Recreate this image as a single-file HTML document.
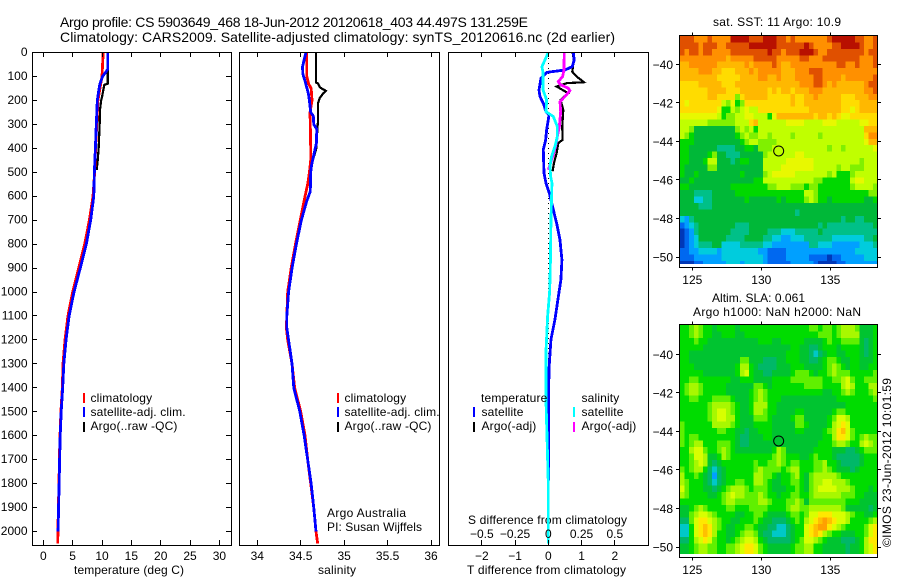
<!DOCTYPE html>
<html lang="en">
<head>
<meta charset="utf-8">
<title>Argo profile CS 5903649_468</title>
<style>
html,body{margin:0;padding:0;background:#fff;width:900px;height:580px;overflow:hidden}
svg{display:block;font-family:"Liberation Sans",sans-serif;fill:#000}
text{font-size:12px}
</style>
</head>
<body>
<svg id="fig" xmlns="http://www.w3.org/2000/svg" width="900" height="580" viewBox="0 0 900 580">
<defs>
<clipPath id="c1"><rect x="33" y="53" width="198" height="492"/></clipPath>
<clipPath id="c2"><rect x="240" y="53" width="199" height="492"/></clipPath>
<clipPath id="c3"><rect x="449" y="53" width="199" height="492"/></clipPath>
<clipPath id="m1"><rect x="680" y="36" width="197" height="228"/></clipPath>
<clipPath id="m2"><rect x="680" y="325" width="197" height="229"/></clipPath>
</defs>
<text x="60" y="27" style="font-size:14px" textLength="468">Argo profile: CS 5903649_468 18-Jun-2012 20120618_403 44.497S 131.259E</text>
<text x="60" y="42" style="font-size:14px" textLength="555">Climatology: CARS2009. Satellite-adjusted climatology: synTS_20120616.nc (2d earlier)</text>
<text x="74" y="574" textLength="110">temperature (deg C)</text>
<text x="318" y="574" textLength="38">salinity</text>
<text x="467" y="574" textLength="159">T difference from climatology</text>
<text x="468" y="524" textLength="159">S difference from climatology</text>
<text x="327" y="517" textLength="79">Argo Australia</text>
<text x="327" y="531" textLength="95">PI: Susan Wijffels</text>
<text x="713" y="26" textLength="128">sat. SST: 11 Argo: 10.9</text>
<text x="712" y="302" textLength="93">Altim. SLA: 0.061</text>
<text x="693" y="316" textLength="168">Argo h1000: NaN h2000: NaN</text>
<text transform="translate(891 547) rotate(-90)" x="0" y="0" textLength="169">©IMOS 23-Jun-2012 10:01:59</text>
</svg>
<script>
// ---------- profile data (depth in metres) ----------
const tempDepths = [0,100,150,200,300,400,500,600,700,800,900,1000,1100,1200,1300,1400,1500,1600,1700,1800,1900,2000,2050];
const tempClim = [10.2,10,9.65,9.3,9.1,8.9,8.75,8.47,7.85,7.05,6.03,5,4.2,3.7,3.36,3.24,3,2.85,2.73,2.68,2.56,2.5,2.45];
const tempSatDepths = [0,70,80,100,130,150,200,300,400,500,600,700,800,900,1000,1100,1200,1300,1400,1500,1600,1700,1800,1900,2000];
const tempSat = [10.97,10.97,10.7,10.1,9.66,9.5,9.2,9.03,8.87,8.7,8.6,8.07,7.33,6.3,5.23,4.4,3.87,3.5,3.3,3.05,2.88,2.78,2.7,2.6,2.52];
const tempArgoDepths = [0,130,135,160,180,200,240,300,400,450,490];
const tempArgo = [10.97,10.97,10.4,10.2,10.05,9.85,9.66,9.6,9.43,9.27,9.1];

const salClimDepths = [0,100,130,150,200,250,300,400,450,500,550,600,700,800,900,1000,1100,1150,1200,1300,1400,1500,1600,1700,1800,1900,2000,2050];
const salClim = [34.57,34.57,34.59,34.62,34.63,34.607,34.61,34.615,34.615,34.6,34.58,34.55,34.495,34.44,34.39,34.35,34.34,34.335,34.35,34.4,34.43,34.5,34.55,34.58,34.615,34.65,34.676,34.695];
const salSatDepths = [0,30,60,90,120,170,200,250,265,300,320,380,420,470,500,580,620,700,800,900,1000,1100,1150,1300,1400,1500,1600,1700,1800,1900,2000];
const salSat = [34.56,34.54,34.52,34.525,34.55,34.587,34.6,34.615,34.645,34.65,34.685,34.68,34.655,34.625,34.615,34.61,34.57,34.507,34.45,34.4,34.36,34.34,34.34,34.4,34.42,34.49,34.54,34.58,34.62,34.65,34.676];
const salArgoDepths = [0,125,130,145,150,160,170,190,210,250,280,330,400,450,480];
const salArgo = [34.676,34.676,34.7,34.72,34.74,34.79,34.76,34.72,34.7,34.7,34.7,34.69,34.68,34.64,34.62];

const dTSatDepths = [0,31,59,73,83,108,156,184,212,247,260,281,323,365,406,503,545,587,656,712,781,865,948,1031,1115,1198,1323,1448,1865,2050];
const dTSat = [0.75,0.78,0.72,0.5,-0.05,-0.22,-0.28,-0.25,-0.15,-0.07,0.02,0,-0.05,-0.08,-0.15,-0.13,-0.07,0.03,0.15,0.25,0.35,0.41,0.38,0.29,0.2,0.08,0.02,0.01,0,0];
const dTArgoDepths = [0,31,80,100,124,128,142,170,198,240,309,365,378,420,461,496];
const dTArgo = [0.73,0.77,0.72,0.85,1.07,0.55,0.25,0.6,0.37,0.45,0.42,0.43,0.3,0.25,0.17,0.13];
const dSSatDepths = [0,31,59,83,115,156,198,247,267,309,351,392,434,476,517,545,700,900,1000,1100,1250,1450,1600,1800,2050];
const dSSat = [0,-0.025,-0.048,-0.04,-0.04,-0.04,-0.0125,-0.0175,0.0375,0.068,0.068,0.05,0.025,0.0125,0.0175,0.0275,0.02,0.015,0.01,-0.005,-0.0175,-0.0175,-0.01,0,0];
const dSArgoDepths = [0,73,100,122,135,149,159,184,205,247,309,351,392,434,490];
const dSArgo = [0.12,0.118,0.108,0.075,0.093,0.15,0.163,0.125,0.088,0.093,0.083,0.068,0.055,0.033,0];

// ---------- axis ticks ----------
const depthTicks = [0,100,200,300,400,500,600,700,800,900,1000,1100,1200,1300,1400,1500,1600,1700,1800,1900,2000];
const tempTicks = [0,5,10,15,20,25,30];
const salTicks = [34,34.5,35,35.5,36];
const dTTicks = [-2,-1,0,1,2];
const dSTicks = [-0.5,-0.25,0,0.25,0.5];
const lonTicks = [125,130,135];
const latTicks = [-40,-42,-44,-46,-48,-50];

// ---------- map data: colour-level per 1/3 degree cell, north to south ----------
const sstLevels = [
[13,13,13,12,12,12,13,12,12,12,12,14,14,14,14,13,13,13,14,14,14,13,13,12,13,12,12,12,12,12,12,12,13,14,14,14,14,14,13,13,12,12,13],
[13,13,13,13,12,13,13,13,12,12,13,13,13,13,13,14,14,14,14,14,14,13,13,13,13,13,13,14,13,12,12,12,12,13,13,14,14,14,14,13,12,12,13],
[13,12,13,13,12,13,13,12,12,12,12,13,13,13,13,13,13,13,13,14,13,13,12,13,13,13,14,14,14,13,12,12,13,13,13,13,13,13,13,13,12,13,13],
[12,12,12,12,12,12,12,12,12,12,11,12,12,12,12,12,13,13,13,13,13,12,12,12,12,12,13,13,12,12,12,13,13,13,13,13,13,13,13,12,12,12,13],
[11,11,12,12,12,12,12,12,11,11,11,11,11,11,12,11,12,12,12,12,13,12,11,11,12,12,12,12,12,12,12,12,12,12,13,13,12,12,13,12,12,12,13],
[11,11,11,11,12,12,12,11,11,10,10,10,11,11,11,12,11,12,12,12,12,12,11,11,11,12,12,12,13,13,13,12,12,12,12,12,12,12,12,12,12,12,12],
[11,11,11,11,11,11,11,11,10,10,10,10,10,11,11,11,11,12,12,11,11,12,11,11,11,12,12,12,12,13,13,12,12,12,12,11,12,12,12,12,12,12,13],
[10,10,10,10,11,11,11,11,11,10,10,10,11,11,11,11,11,11,11,11,11,11,11,11,11,11,12,12,12,13,13,12,11,12,11,11,11,11,11,11,12,13,13],
[10,10,10,10,10,10,11,11,11,11,10,10,10,11,11,11,11,11,11,10,11,10,11,11,10,11,11,11,12,12,12,11,11,11,11,11,11,11,11,11,12,12,13],
[10,10,10,10,10,10,11,11,10,10,10,10,7,10,11,11,11,11,11,10,10,10,10,10,11,10,10,11,11,12,11,11,11,11,11,10,10,10,11,11,11,12,12],
[10,9,10,10,10,10,10,10,10,8,7,9,6,7,10,10,10,10,10,10,10,10,10,10,11,10,10,11,11,11,11,11,11,11,11,10,10,10,10,11,11,11,11],
[10,10,10,10,10,10,10,10,9,6,6,8,7,8,9,8,8,10,10,10,10,10,10,10,10,10,10,10,11,11,11,11,11,11,11,10,10,9,10,11,11,11,11],
[9,9,9,9,9,9,9,9,8,6,7,7,8,8,9,9,8,8,8,6,9,11,11,11,11,11,11,11,11,10,11,11,10,11,10,9,9,10,10,10,10,10,10],
[8,8,8,8,8,8,7,7,7,7,7,7,8,8,8,10,11,8,8,8,8,8,8,9,9,9,9,8,8,8,8,9,9,9,8,8,8,8,8,9,9,10,10],
[8,8,7,5,5,5,5,5,5,5,5,5,7,8,7,8,6,8,8,8,8,8,8,8,8,8,8,8,8,8,8,8,8,8,8,8,8,8,8,8,11,11,11],
[8,7,6,5,5,5,5,5,5,5,5,5,6,7,8,7,7,8,8,7,8,8,8,8,7,8,8,8,8,8,7,8,8,8,8,8,8,8,8,8,10,12,12],
[6,6,6,5,5,5,5,5,5,5,5,5,5,6,7,8,8,7,7,7,7,8,8,8,8,8,8,8,8,8,8,8,8,8,8,8,8,8,8,8,9,11,11],
[6,6,5,5,5,5,5,5,4,4,4,4,5,5,6,6,5,7,7,7,8,8,8,8,8,8,8,8,8,8,8,8,7,8,8,7,8,8,8,8,8,8,9],
[6,6,5,5,5,5,6,7,5,5,4,4,4,5,5,5,5,5,7,8,8,8,8,8,8,9,9,8,8,8,8,8,8,8,8,8,8,8,8,8,8,8,8],
[6,6,5,5,5,6,8,8,5,5,5,4,5,6,6,5,5,5,8,8,8,8,8,9,9,9,9,9,9,8,8,8,8,8,8,8,8,8,8,7,8,8,8],
[6,5,5,5,5,5,7,7,5,5,5,5,5,5,5,5,5,5,8,8,8,8,9,9,9,9,9,9,9,8,8,8,8,8,7,8,8,7,7,7,8,8,8],
[6,5,5,6,5,5,5,5,5,5,5,5,5,6,5,5,5,5,7,8,9,9,9,9,9,8,8,8,8,8,8,8,7,8,6,6,6,7,8,8,8,8,8],
[5,5,6,5,5,5,5,5,5,5,5,5,5,5,5,5,6,6,8,8,8,8,8,8,8,8,8,8,8,7,7,6,6,6,6,6,6,8,9,9,8,8,8],
[6,6,5,5,5,5,5,5,5,5,5,6,6,6,6,6,6,6,6,7,7,8,8,8,7,7,7,6,7,7,6,6,6,6,6,6,6,7,8,8,8,8,7],
[5,5,5,4,4,4,4,5,5,5,5,5,6,6,6,6,6,6,6,6,6,6,6,6,6,6,6,8,8,7,6,6,6,6,6,6,6,6,6,6,6,7,7],
[5,5,5,3,3,4,4,5,5,5,5,5,5,5,6,5,5,5,5,5,5,6,5,6,6,6,6,7,8,7,6,6,5,6,6,6,6,6,6,6,5,5,6],
[5,5,5,5,4,4,4,5,5,5,5,5,5,5,5,5,5,5,5,5,5,5,5,5,5,5,5,5,5,5,5,5,5,5,5,5,5,5,5,5,5,5,5],
[5,5,5,5,5,5,5,5,5,5,5,5,5,5,5,5,5,5,5,5,5,5,5,5,5,4,5,5,5,5,5,5,5,5,5,5,5,5,5,5,5,5,5],
[3,2,4,5,5,5,5,5,5,5,5,5,5,5,5,5,5,5,5,5,5,5,5,5,5,5,5,5,5,5,5,5,5,5,5,4,5,5,4,4,5,5,5],
[1,2,3,4,5,5,5,5,5,5,5,5,4,4,4,5,5,5,5,5,5,5,5,5,5,5,5,5,5,5,4,5,4,4,4,4,4,4,4,4,4,4,5],
[0,1,2,4,5,5,5,5,5,5,5,4,4,4,4,5,5,5,5,4,4,4,3,3,3,4,4,4,4,4,5,4,4,4,4,4,4,4,4,4,4,4,4],
[0,1,2,3,5,5,5,5,5,5,4,4,4,4,5,5,5,5,4,4,3,3,2,2,3,3,3,4,4,4,4,4,4,3,3,3,3,3,3,3,4,4,5],
[0,1,2,3,4,4,4,5,5,3,3,3,3,4,4,4,4,4,3,3,2,2,2,2,2,2,2,2,4,4,3,3,3,2,2,2,2,2,2,3,3,3,4],
[1,1,2,2,3,3,3,3,2,3,3,3,3,3,3,3,3,2,2,1,1,1,1,2,2,2,2,2,2,2,2,2,2,2,2,2,2,2,3,3,3,3,3],
[1,1,1,2,2,2,2,2,2,3,3,3,3,3,3,3,3,3,2,1,1,1,1,2,2,2,2,2,1,1,1,1,0,1,1,2,2,2,2,2,3,3,3],
[0,0,0,1,1,2,2,2,2,2,3,3,3,2,3,3,3,3,2,1,1,1,1,1,2,2,2,2,2,1,0,0,0,0,1,1,2,2,2,2,2,2,2]
];
const slaLevels = [
[6,6,7,8,7,6,6,5,6,6,6,6,5,6,6,6,6,6,6,6,6,6,6,6,6,6,6,6,7,7,6,7,7,6,7,8,8,8,7,5,5,5,6],
[6,6,7,8,7,6,6,5,5,6,6,6,5,5,6,6,6,6,6,6,6,6,6,6,6,6,6,6,6,6,7,7,7,6,7,8,8,8,8,5,5,5,6],
[6,6,6,7,6,6,5,5,5,5,5,5,5,5,5,5,5,6,6,6,5,5,6,6,6,6,6,5,5,5,5,6,7,6,6,7,7,7,7,5,4,5,6],
[6,6,6,6,6,5,5,5,5,5,5,5,5,5,5,5,5,5,5,5,5,5,5,5,6,6,5,5,4,4,5,6,6,6,5,6,6,6,6,5,4,5,6],
[6,6,5,5,5,5,5,5,5,5,5,5,5,5,5,5,5,5,5,5,5,5,5,6,6,6,5,5,4,3,4,5,6,6,5,5,6,6,6,5,4,5,6],
[6,6,5,5,5,5,5,5,5,5,5,5,5,7,7,5,5,5,4,4,4,5,5,6,6,6,5,5,4,4,5,6,7,7,6,5,5,6,6,5,5,5,6],
[6,6,6,5,5,5,5,5,5,5,5,5,6,8,8,6,5,4,4,4,4,5,5,5,6,6,6,5,5,5,5,6,7,8,7,6,5,6,6,5,5,6,6],
[6,6,6,6,6,5,5,5,5,5,5,5,6,8,9,6,5,5,4,4,5,5,5,5,6,7,7,7,6,5,6,6,7,8,7,7,7,6,6,6,6,6,7],
[6,6,7,7,6,6,6,6,6,6,6,5,5,6,6,6,5,5,5,5,6,6,6,6,7,7,7,7,7,7,7,6,6,7,7,8,9,7,6,6,7,7,7],
[6,7,8,8,7,6,6,6,6,6,5,5,5,5,5,5,7,7,6,5,6,6,6,6,6,6,6,7,7,7,7,6,6,6,6,8,9,8,6,6,6,8,8],
[6,7,8,8,7,6,6,6,6,6,5,5,5,5,5,6,7,8,7,6,6,6,6,6,6,6,6,6,6,6,6,5,5,6,6,7,8,7,6,6,6,7,8],
[6,6,7,7,6,6,6,7,7,7,7,6,5,5,5,6,7,8,7,6,6,6,5,5,5,5,5,5,5,5,5,5,5,5,6,6,6,6,6,6,6,6,7],
[6,6,6,6,6,6,7,8,8,8,8,7,6,5,5,6,8,8,8,6,6,5,5,5,5,5,5,5,5,5,5,5,5,5,5,5,6,6,6,6,6,6,6],
[6,6,6,6,6,6,7,8,9,9,8,7,6,5,5,6,8,8,7,6,6,5,5,5,5,6,6,5,5,5,5,5,5,6,7,7,6,6,6,6,6,6,6],
[6,6,6,6,6,6,7,8,9,9,8,8,6,5,5,5,7,7,7,6,5,5,5,5,6,7,7,5,5,5,5,5,6,7,9,9,8,6,6,6,6,6,6],
[7,6,6,6,6,6,6,8,8,8,8,7,6,5,5,5,6,6,6,6,5,5,5,5,5,7,7,6,5,5,5,5,6,8,9,10,9,6,6,6,6,6,6],
[7,6,6,6,6,6,6,6,7,7,6,6,5,5,4,5,5,6,6,6,5,5,5,5,5,6,6,5,5,5,5,6,7,8,10,11,9,7,6,6,6,6,6],
[7,6,7,7,6,6,6,6,6,6,6,6,5,4,4,5,5,5,6,6,5,5,5,5,5,5,5,5,5,5,5,6,6,8,10,10,9,7,6,7,8,7,7],
[7,6,7,8,8,6,6,6,7,7,7,6,5,4,4,5,5,5,5,5,5,5,5,5,5,5,5,5,5,5,6,6,6,7,8,8,7,6,6,8,9,8,7],
[6,6,8,9,9,7,6,6,7,8,7,6,5,5,5,5,5,5,5,5,6,8,7,5,5,5,5,5,5,6,6,6,6,5,5,5,4,4,5,6,7,7,7],
[6,6,7,9,9,8,5,5,6,8,7,6,6,6,6,6,6,6,6,6,7,8,7,6,6,6,5,5,6,7,6,6,6,5,4,4,4,4,4,5,6,6,6],
[6,6,7,8,9,8,5,4,5,6,6,6,6,6,6,6,7,6,6,7,7,8,7,6,7,7,6,6,6,7,7,8,6,6,5,4,4,4,4,5,6,6,6],
[7,6,7,8,8,6,4,3,4,5,6,6,6,6,6,6,7,8,7,7,7,7,6,7,8,8,6,6,6,7,7,8,7,6,5,5,5,4,5,6,6,6,6],
[8,6,6,7,6,5,4,2,4,5,6,6,6,6,6,6,8,8,7,7,6,5,6,6,7,8,6,5,7,8,8,8,8,8,7,6,6,6,6,6,6,6,6],
[8,7,6,6,6,5,4,3,4,5,6,6,7,7,6,6,8,8,7,6,5,5,6,6,7,7,6,5,7,8,8,9,9,8,8,8,7,6,6,6,6,6,6],
[9,7,6,6,6,5,5,4,5,6,7,8,8,8,7,6,7,7,7,6,5,5,5,6,6,7,6,5,7,8,9,9,9,9,8,8,8,7,6,6,6,5,6],
[8,7,6,6,6,6,5,5,6,7,8,9,8,8,7,7,7,8,7,6,6,5,6,6,7,7,6,6,7,8,8,8,8,8,8,7,7,7,6,6,5,5,5],
[6,6,6,6,6,6,6,6,6,7,8,8,7,7,7,7,7,8,8,7,6,6,6,7,7,8,7,5,7,7,7,7,7,7,7,7,6,6,6,5,5,5,5],
[5,5,6,7,8,7,6,6,6,6,7,7,6,6,6,7,7,7,7,6,6,6,6,7,8,8,7,7,8,8,8,8,8,8,8,7,5,5,5,5,5,4,5],
[5,5,7,8,9,9,8,7,6,6,6,6,5,5,6,6,7,7,6,5,5,5,5,6,7,7,6,7,9,9,10,10,10,9,9,9,8,7,6,6,5,5,6],
[4,4,7,9,10,10,9,8,7,6,6,5,5,6,6,6,7,6,5,5,4,4,4,5,6,7,6,8,9,10,11,12,11,10,9,9,8,6,6,6,6,7,8],
[3,3,6,9,10,11,10,8,7,6,5,5,6,6,7,7,6,5,5,4,4,3,3,4,5,6,6,9,10,11,12,12,10,9,8,7,6,6,6,6,7,9,10],
[3,3,6,9,10,11,10,8,6,6,5,5,6,7,8,8,7,5,4,4,3,3,3,4,5,6,6,9,10,11,10,8,7,6,6,5,5,5,6,6,7,9,10],
[4,4,6,8,9,10,9,7,6,6,5,6,7,8,9,9,8,6,5,4,4,4,4,4,5,6,7,9,9,8,7,6,5,5,5,4,4,4,5,6,8,10,10],
[5,5,6,7,8,8,7,7,6,6,7,7,8,9,10,10,9,7,6,5,5,5,5,5,6,7,7,8,8,6,6,5,5,5,5,5,4,5,5,6,8,9,10],
[5,5,6,7,8,8,7,7,6,6,7,7,8,9,10,10,9,7,6,5,5,5,5,5,6,7,7,8,8,6,6,5,5,5,5,5,4,5,5,6,8,9,10]
];
const argoLon = 131.259;
const argoLat = -44.497;

// ---------- drawing ----------
const sstPalette = ['#0038b8','#0068f0','#00a0ff','#00ccdd','#00c088','#00b838','#00d800','#80f000','#c0ff00','#e8f800','#ffdc00','#ffb800','#ff9000','#e05000','#b81000'];
const slaPalette = ['#0038b8','#0068f0','#00a0ff','#00c8c8','#00b868','#00c430','#00dc00','#60f000','#a8f800','#d8ff00','#ffe800','#ffc000','#ffa000','#e05000','#b81000'];
const svg = document.getElementById('fig');
const NS = 'http://www.w3.org/2000/svg';
function mk(tag, attrs) {
  const n = document.createElementNS(NS, tag);
  for (const k in attrs) n.setAttribute(k, attrs[k]);
  svg.appendChild(n);
  return n;
}
const yDepth = d => 52.5 + 0.2395 * d;
const xTemp = v => 43.3 + 5.87 * v;
const xSal = v => 257.3 + 86.85 * (v - 34);
const xDT = v => 548.3 + 33.25 * v;
const xDS = v => 548.3 + 133 * v;
const fmt = v => String(v).replace('-', '\u2212');

function vline(x, y1, y2, name) {
  const px = Math.round(x - 0.5) + 0.5;
  const el = mk('line', {x1: px, x2: px, y1: y1, y2: y2, stroke: '#000', 'stroke-width': 1, 'shape-rendering': 'crispEdges'});
  
  
}
function hline(y, x1, x2, name) {
  const py = Math.round(y - 0.5) + 0.5;
  const el = mk('line', {x1: x1, x2: x2, y1: py, y2: py, stroke: '#000', 'stroke-width': 1, 'shape-rendering': 'crispEdges'});
  
  
}
function label(x, y, s, anchor, name, spacing) {
  const el = mk('text', {x: x, y: y, 'text-anchor': anchor});
  if (spacing) el.setAttribute('letter-spacing', spacing);
  el.textContent = s;
  
  
}
function curve(depths, vals, xf, color, clip, name, width) {
  const pts = depths.map((d, i) => xf(vals[i]).toFixed(2) + ',' + yDepth(d).toFixed(2)).join(' ');
  const el = mk('polyline', {points: pts, fill: 'none', stroke: color, 'stroke-width': width || 2.8, 'clip-path': 'url(#' + clip + ')', 'shape-rendering': 'crispEdges'});
  
  
}
function frame(x, y, w, h, name) {
  const el = mk('rect', {x: x, y: y, width: w, height: h, fill: 'none', stroke: '#000', 'stroke-width': 1, 'shape-rendering': 'crispEdges'});
  
  
}
function legendBar(x, y, color, name) {
  const el = mk('rect', {x: x, y: y, width: 2, height: 10, fill: color, 'shape-rendering': 'crispEdges'});
  
  
}

// profile panels
curve(tempArgoDepths, tempArgo, xTemp, '#000', 'c1', 'temperature-argo-line', 2.2);
curve(tempDepths, tempClim, xTemp, '#f00', 'c1', 'temperature-climatology-line');
curve(tempSatDepths, tempSat, xTemp, '#00f', 'c1', 'temperature-satellite-line');
curve(salArgoDepths, salArgo, xSal, '#000', 'c2', 'salinity-argo-line', 2.2);
curve(salClimDepths, salClim, xSal, '#f00', 'c2', 'salinity-climatology-line');
curve(salSatDepths, salSat, xSal, '#00f', 'c2', 'salinity-satellite-line');

const zeroLine = mk('line', {x1: 548.5, x2: 548.5, y1: 53, y2: 545, stroke: '#000', 'stroke-width': 1, 'stroke-dasharray': '1 4', 'shape-rendering': 'crispEdges'});


curve(dTArgoDepths, dTArgo, xDT, '#000', 'c3', 'delta-t-argo-line', 2.2);
curve(dTSatDepths, dTSat, xDT, '#00f', 'c3', 'delta-t-satellite-line');
curve(dSArgoDepths, dSArgo, xDS, '#f0f', 'c3', 'delta-s-argo-line');
curve(dSSatDepths, dSSat, xDS, '#0ff', 'c3', 'delta-s-satellite-line');

frame(32.5, 52.5, 199, 493, 'temperature-panel-frame');
frame(239.5, 52.5, 200, 493, 'salinity-panel-frame');
frame(448.5, 52.5, 200, 493, 'difference-panel-frame');

depthTicks.forEach(d => {
  hline(yDepth(d), 33, 37, 'depth-tick-left');
  hline(yDepth(d), 226, 231, 'depth-tick-right');
  label(27.5, yDepth(d) + 3.5, fmt(d), 'end', 'depth-tick-label');
});
tempTicks.forEach(v => {
  vline(xTemp(v), 53, 57, 'temperature-tick-top');
  vline(xTemp(v), 540, 545, 'temperature-tick-bottom');
  label(xTemp(v), 560, fmt(v), 'middle', 'temperature-tick-label');
});
salTicks.forEach(v => {
  vline(xSal(v), 53, 57, 'salinity-tick-top');
  vline(xSal(v), 540, 545, 'salinity-tick-bottom');
  label(xSal(v), 560, fmt(v), 'middle', 'salinity-tick-label');
});
dTTicks.forEach(v => {
  vline(xDT(v), 53, 57, 'delta-t-tick-top');
  vline(xDT(v), 540, 545, 'delta-t-tick-bottom');
  label(xDT(v), 560, fmt(v), 'middle', 'delta-t-tick-label');
});
dSTicks.forEach(v => {
  label(xDS(v), 538, fmt(v), 'middle', 'delta-s-tick-label');
});

// legends
const LS = '0.16';
legendBar(83, 393, '#f00', 'legend-climatology-swatch');
legendBar(83, 407, '#00f', 'legend-satellite-swatch');
legendBar(83, 422, '#000', 'legend-argo-swatch');
label(90.5, 402, 'climatology', 'start', 'legend-climatology-label', LS);
label(90.5, 416, 'satellite-adj. clim.', 'start', 'legend-satellite-label', LS);
label(90.5, 430, 'Argo(..raw -QC)', 'start', 'legend-argo-label', LS);
legendBar(337, 393, '#f00', 'salinity-legend-climatology-swatch');
legendBar(337, 407, '#00f', 'salinity-legend-satellite-swatch');
legendBar(337, 422, '#000', 'salinity-legend-argo-swatch');
label(344.5, 402, 'climatology', 'start', 'salinity-legend-climatology-label', LS);
label(344.5, 416, 'satellite-adj. clim.', 'start', 'salinity-legend-satellite-label', LS);
label(344.5, 430, 'Argo(..raw -QC)', 'start', 'salinity-legend-argo-label', LS);
label(481, 402, 'temperature', 'start', 'diff-legend-temperature-heading', LS);
label(581.5, 402, 'salinity', 'start', 'diff-legend-salinity-heading', LS);
legendBar(473, 407, '#00f', 'diff-legend-t-satellite-swatch');
legendBar(473, 422, '#000', 'diff-legend-t-argo-swatch');
legendBar(573, 407, '#0ff', 'diff-legend-s-satellite-swatch');
legendBar(573, 422, '#f0f', 'diff-legend-s-argo-swatch');
label(481.5, 416, 'satellite', 'start', 'diff-legend-t-satellite-label', LS);
label(481.5, 430, 'Argo(-adj)', 'start', 'diff-legend-t-argo-label', LS);
label(581.5, 416, 'satellite', 'start', 'diff-legend-s-satellite-label', LS);
label(581.5, 430, 'Argo(-adj)', 'start', 'diff-legend-s-argo-label', LS);

// maps
const xLon = lon => 692.3 + 13.8 * (lon - 125);
function drawMap(levels, palette, y40, top, bottom, clip, prefix) {
  const yLat = lat => y40 + 19.27 * (-40 - lat);
  const lon0 = 125 + (680 - 692.3) / 13.8;
  const lat0 = -40 + (y40 - (top + 0.5)) / 19.27;
  levels.forEach((row, i) => {
    row.forEach((v, j) => {
      const cell = mk('rect', {
        x: xLon(lon0 + j / 3).toFixed(2),
        y: yLat(lat0 - i / 3).toFixed(2),
        width: 5.1,
        height: 6.9,
        fill: palette[Math.max(0, Math.min(palette.length - 1, v))],
        'clip-path': 'url(#' + clip + ')',
        'shape-rendering': 'crispEdges'
      });
      
      
    });
  });
  frame(679.5, top, 198, bottom - top, prefix + '-map-frame');
  lonTicks.forEach(lon => {
    vline(xLon(lon), top - 3, top, prefix + '-lon-tick-top');
    vline(xLon(lon), bottom, bottom + 3, prefix + '-lon-tick-bottom');
    label(xLon(lon), bottom + 16.5, fmt(lon), 'middle', prefix + '-lon-label');
  });
  latTicks.forEach(lat => {
    hline(yLat(lat), 676, 679, prefix + '-lat-tick-left');
    hline(yLat(lat), 878, 881, prefix + '-lat-tick-right');
    label(673, yLat(lat) + 4.5, fmt(lat), 'end', prefix + '-lat-label');
  });
  const marker = mk('circle', {cx: xLon(argoLon).toFixed(2), cy: yLat(argoLat).toFixed(2), r: 5, fill: 'none', stroke: '#000', 'stroke-width': 1});
  
  
}
drawMap(sstLevels, sstPalette, 64.3, 35.5, 267.5, 'm1', 'sst');
drawMap(slaLevels, slaPalette, 354.3, 324.5, 557.5, 'm2', 'sla');
</script>
</body>
</html>
